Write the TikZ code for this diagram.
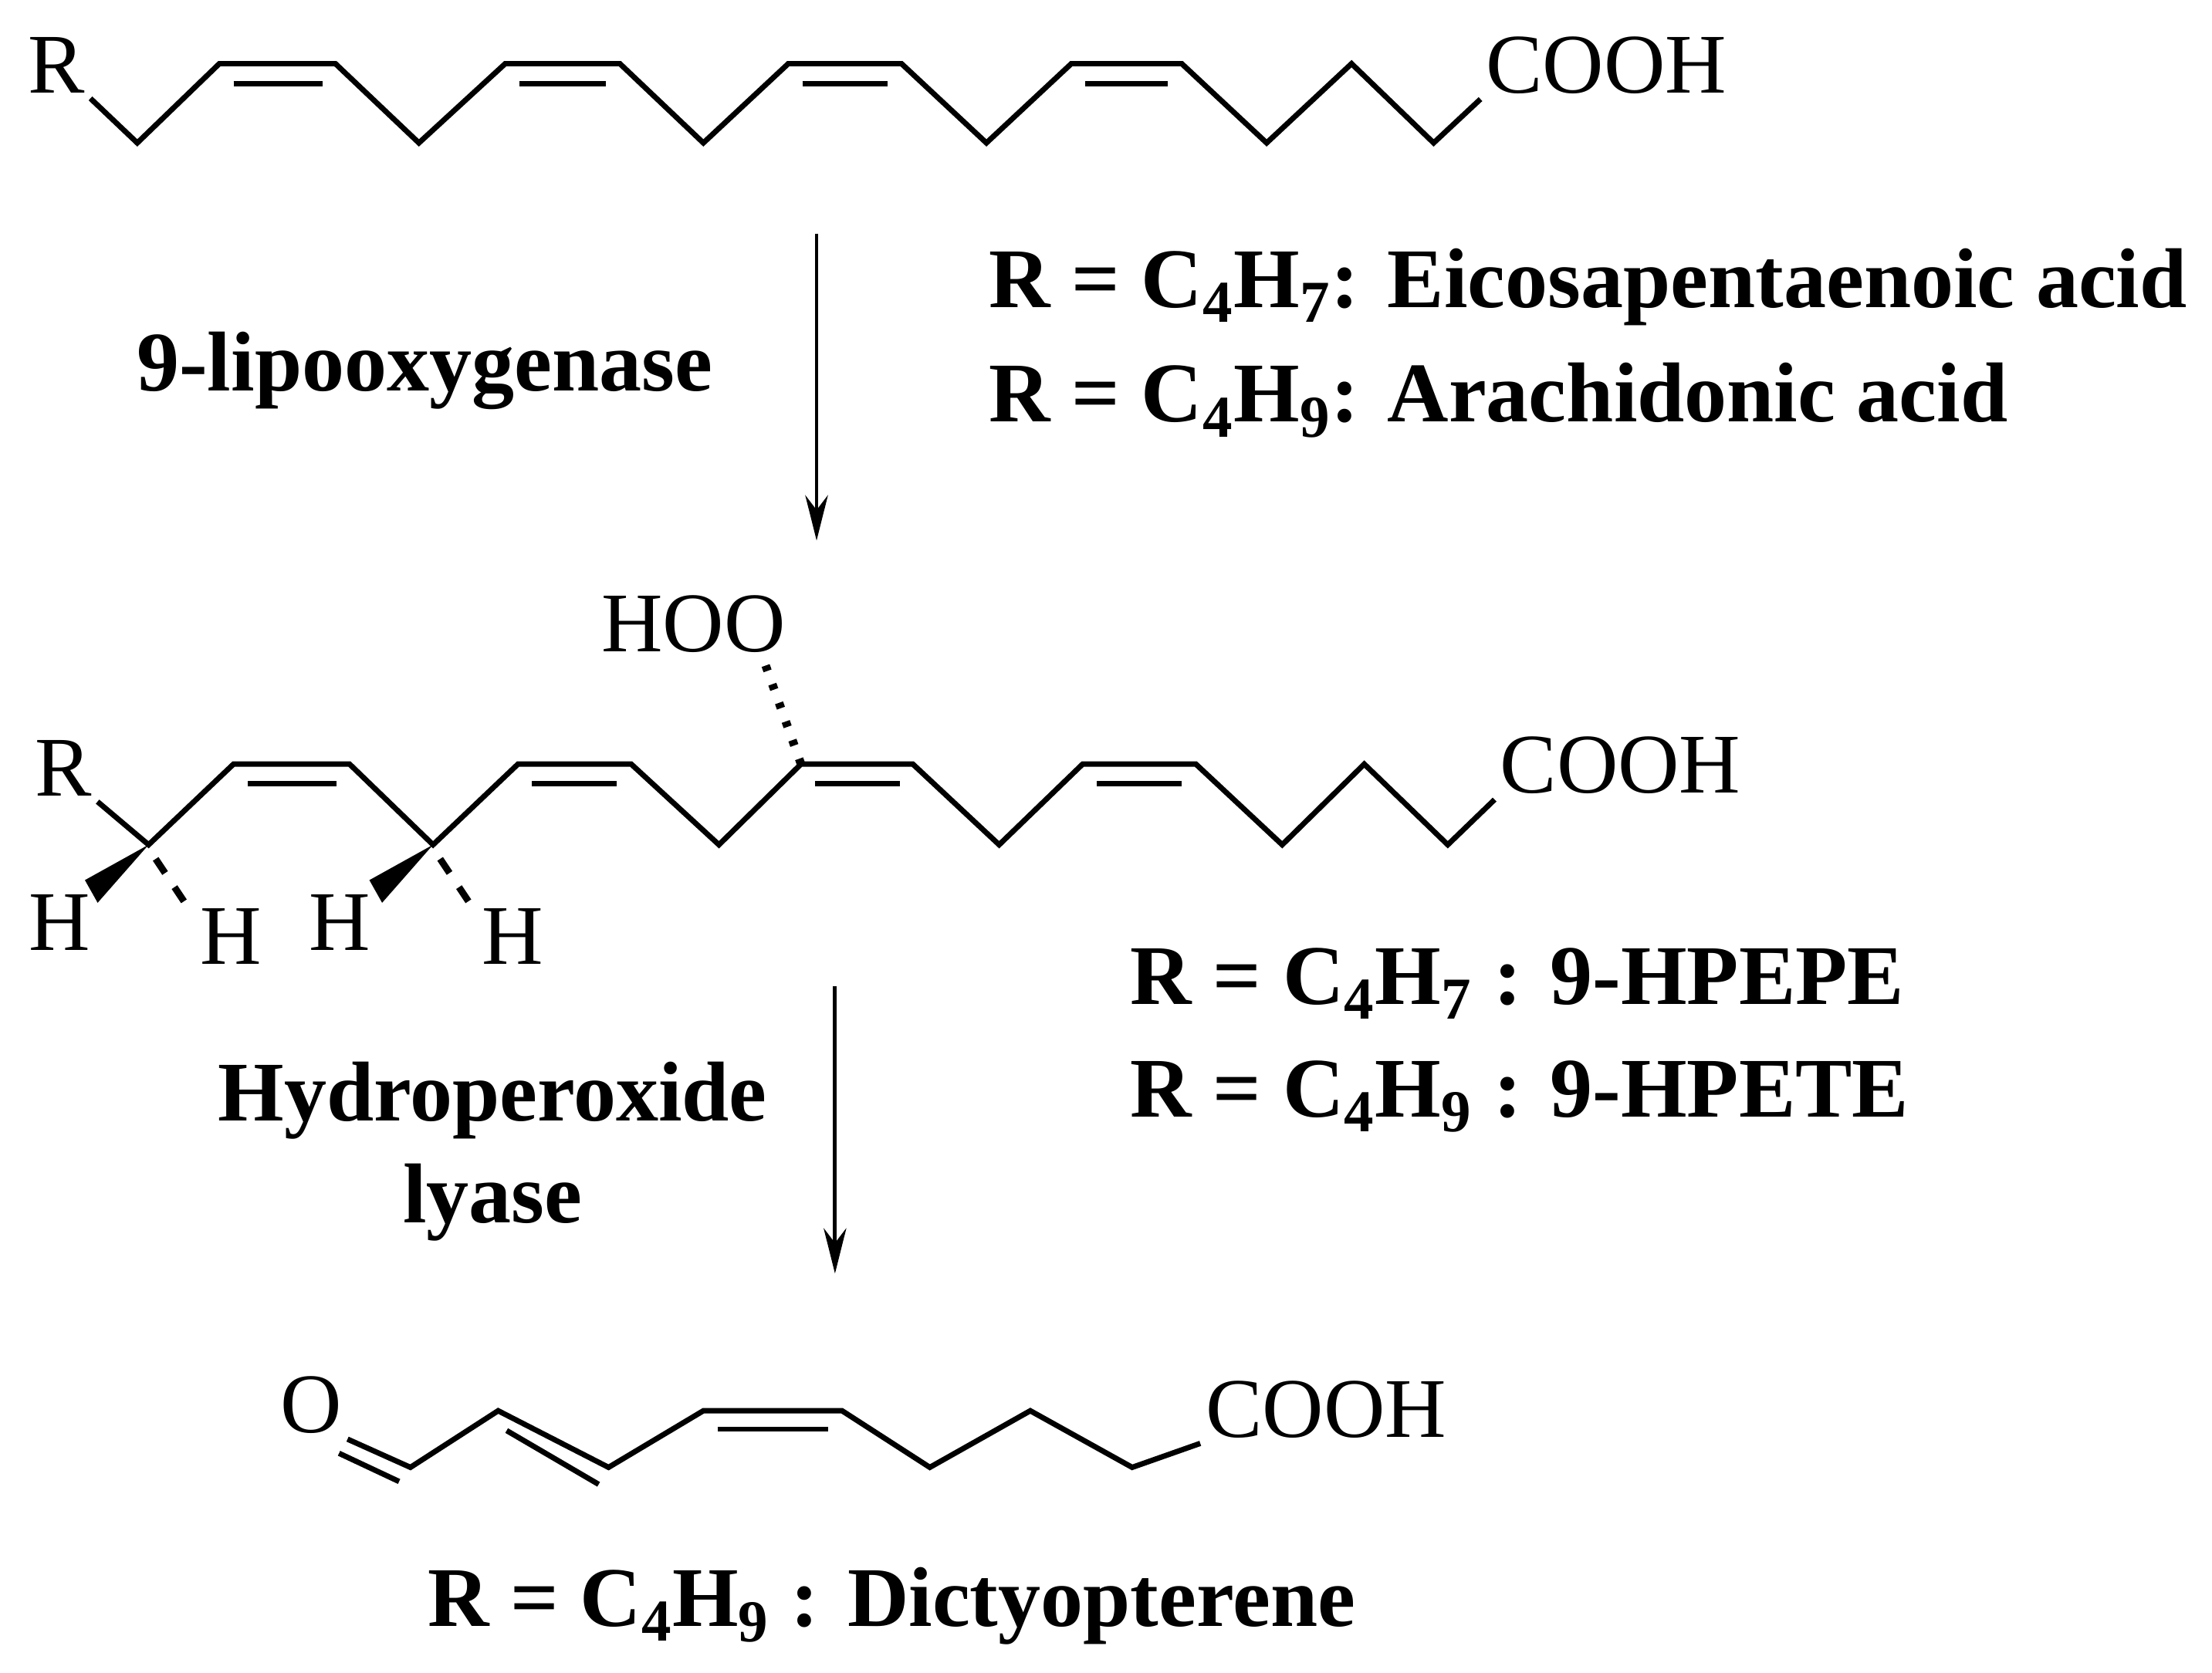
\documentclass[tikz,border=0pt]{standalone}
\usepackage{fontspec}
\setmainfont{Liberation Serif}
\usetikzlibrary{arrows.meta,calc}
\begin{document}
\begin{tikzpicture}[x=0.5pt,y=-0.5pt,line width=1.9pt,line join=miter,
  atom/.style={inner sep=1pt,font=\fontsize{30}{30}\selectfont},
  lab/.style={inner sep=0pt,font=\fontsize{30}{34}\selectfont\bfseries},
  rx/.style={line width=1.3pt,-{Stealth[length=16pt,width=8pt]}}]
\useasboundingbox (0,0) rectangle (1563,1182);
% ---------- top chain
\node[atom] (R1) at (40,46) {R};
\node[atom] (C1) at (1135,46) {COOH};
\draw (R1.south east) -- (97,101) -- (155,45) -- (237,45) -- (296,101) -- (357,45) -- (438,45) -- (497,101) -- (557,45) -- (637,45) -- (697,101) -- (757,45) -- (835,45) -- (895,101) -- (955,45) -- (1013,101) -- (C1.south west);
\foreach \a/\b in {165/228,367/428,567/627,767/825} \draw (\a,59) -- (\b,59);
% arrow 1
\coordinate (a1s) at (577,165); \coordinate (a1e) at (577,382);
\draw[rx] (a1s) -- (a1e);
\node[lab] (l1) at (300,262) {9-lipooxygenase};
\node[lab,anchor=west] (l2) at (697,203) {R = C$_\mathbf{4}$H$_\mathbf{7}$: Eicosapentaenoic acid};
\node[lab,anchor=west] (l3) at (697,283) {R = C$_\mathbf{4}$H$_\mathbf{9}$: Arachidonic acid};
% ---------- middle chain
\node[atom] (R2) at (45,543) {R};
\node[atom] (C2) at (1145,541) {COOH};
\node[atom] (HOO) at (490,441) {HOO};
\coordinate (m1) at (105,597); \coordinate (m2) at (306,597); \coordinate (m3) at (566,540);
\draw (R2.south east) -- (m1) -- (165,540) -- (247,540) -- (m2) -- (366,540) -- (446,540) -- (508,597) -- (m3) -- (645,540) -- (706,597) -- (765,540) -- (845,540) -- (906,597) -- (964,540) -- (1023,597) -- (C2.south west);
\foreach \a/\b in {175/238,376/436,576/636,775/835} \draw (\a,554) -- (\b,554);
\draw[line width=3pt,dash pattern=on 2pt off 5pt] (m3) -- (538,462);
\node[atom] (H1) at (42,652) {H};
\node[atom] (H2) at (163,662) {H};
\node[atom] (H3) at (240,652) {H};
\node[atom] (H4) at (362,662) {H};
\fill (m1) -- (60,622) -- (69,638) -- cycle;
\fill (m2) -- (261,622) -- (270,638) -- cycle;
\draw[line width=2.4pt,dash pattern=on 6pt off 6pt] ($(m1)+(5,10)$) -- (132,640);
\draw[line width=2.4pt,dash pattern=on 6pt off 6pt] ($(m2)+(5,10)$) -- (333,640);
% arrow 2
\coordinate (a2s) at (590,697); \coordinate (a2e) at (590,900);
\draw[rx] (a2s) -- (a2e);
\node[lab] (l4) at (348,778) {Hydroperoxide};
\node[lab] (l5) at (348,850) {lyase};
\node[lab,anchor=west] (l6) at (797,695) {R = C$_\mathbf{4}$H$_\mathbf{7}$ : 9-HPEPE};
\node[lab,anchor=west] (l7) at (797,775) {R = C$_\mathbf{4}$H$_\mathbf{9}$ : 9-HPETE};
% ---------- bottom
\node[atom] (O) at (220,993) {O};
\node[atom] (C3) at (937,996) {COOH};
\draw (O.south east) -- (290,1037) -- (352,997) -- (430,1037) -- (497,997) -- (595,997) -- (657,1037) -- (728,997) -- (800,1037) -- (C3.south west);
\draw (O.south east) ++(-6,10) -- (282,1047);
\draw (358,1011) -- (423,1049);
\draw (507,1010) -- (585,1010);
\node[lab] (l8) at (630,1135) {R = C$_\mathbf{4}$H$_\mathbf{9}$ : Dictyopterene};
\end{tikzpicture}
\end{document}
